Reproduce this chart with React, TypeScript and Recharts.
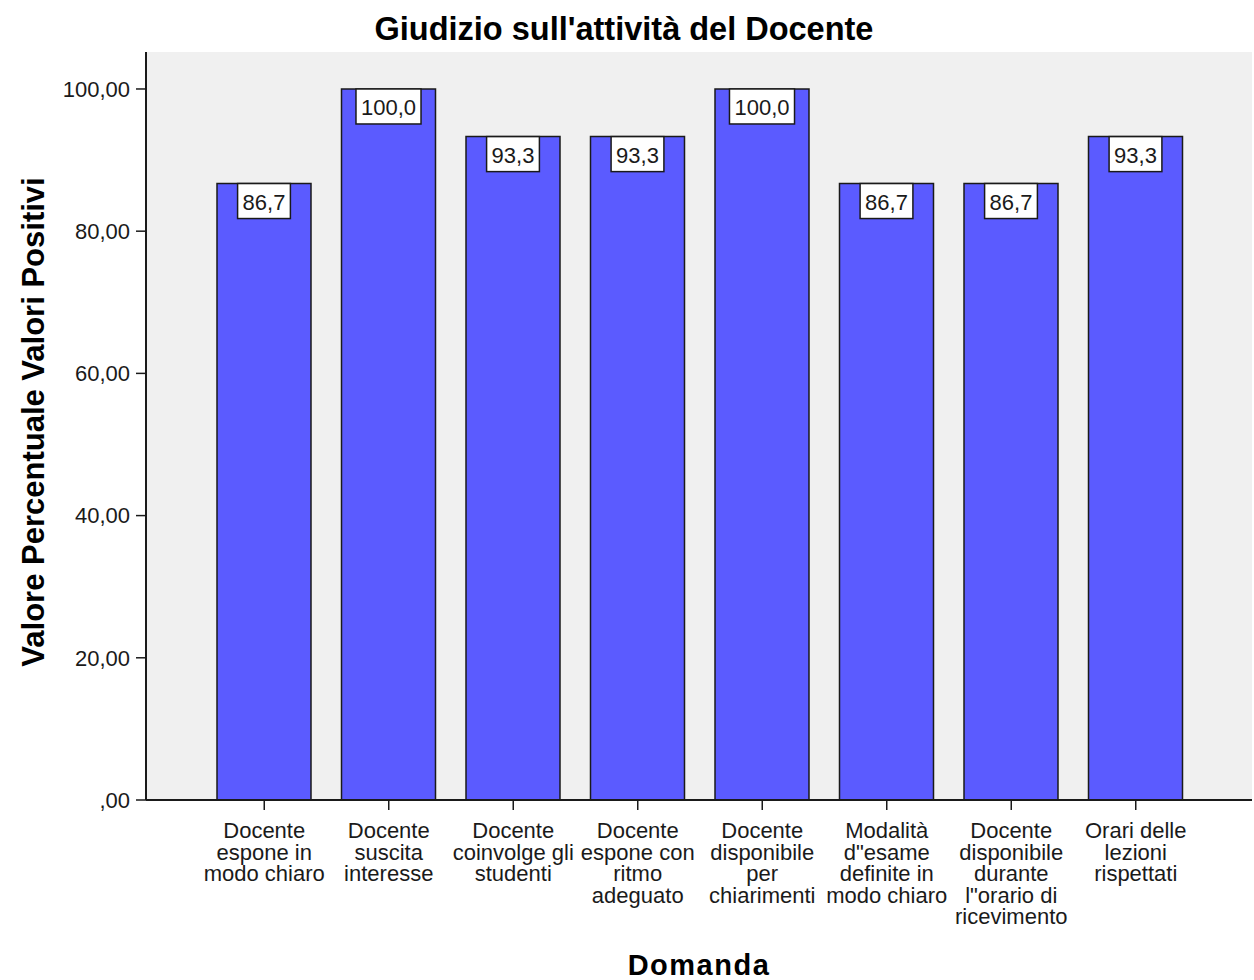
import { Bar, BarChart, CartesianGrid, LabelList, XAxis, YAxis } from 'recharts'

const categories = [
  'Docente\nespone in\nmodo chiaro',
  'Docente\nsuscita\ninteresse',
  'Docente\ncoinvolge gli\nstudenti',
  'Docente\nespone con\nritmo\nadeguato',
  'Docente\ndisponibile\nper\nchiarimenti',
  'Modalità\nd"esame\ndefinite in\nmodo chiaro',
  'Docente\ndisponibile\ndurante\nl"orario di\nricevimento',
  'Orari delle\nlezioni\nrispettati',
]

const positivePercent = [86.7, 100.0, 93.3, 93.3, 100.0, 86.7, 86.7, 93.3]

const yTicks = [0, 20, 40, 60, 80, 100]

const chartTitle = "Giudizio sull'attività del Docente"
const xTitle = 'Domanda'
const yTitle = 'Valore Percentuale Valori Positivi'

const data = categories.map((domanda, i) => ({
  domanda,
  valore: positivePercent[i],
}))

const FONT = '"Liberation Sans", Arial, sans-serif'
const TICK_SIZE = 22

const formatAxis = (v: number) =>
  v === 0 ? ',00' : v.toFixed(2).replace('.', ',')

const formatValue = (v: number) => v.toFixed(1).replace('.', ',')

// rough Arial advance widths, enough to size the white label box
const textWidth = (s: string, size: number) =>
  s.split('').reduce((w, ch) => w + (ch === ',' ? 0.278 : 0.556) * size, 0)

function CategoryTick({ x, y, payload }: any) {
  const lines = String(payload.value).split('\n')
  return (
    <text
      x={x}
      y={y}
      textAnchor="middle"
      fontFamily={FONT}
      fontSize={TICK_SIZE}
      fill="#1a1a1a"
    >
      {lines.map((line, i) => (
        <tspan key={i} x={x} dy={i === 0 ? 28 : 21.5}>
          {line}
        </tspan>
      ))}
    </text>
  )
}

function ValueBox(props: any) {
  const { x, y, width, value } = props
  const label = formatValue(Number(value))
  const w = textWidth(label, TICK_SIZE) + 10
  const cx = x + width / 2
  return (
    <g>
      <rect
        x={cx - w / 2}
        y={y}
        width={w}
        height={35}
        fill="#ffffff"
        stroke="#1a1a1a"
        strokeWidth={1.5}
      />
      <text
        x={cx}
        y={y + 26}
        textAnchor="middle"
        fontFamily={FONT}
        fontSize={TICK_SIZE}
        fill="#1a1a1a"
      >
        {label}
      </text>
    </g>
  )
}

export default function App() {
  return (
    <div style={{ position: 'absolute', left: 0, top: 0, width: 1254, height: 980, background: '#fff' }}>
      <BarChart
        width={1254}
        height={980}
        data={data}
        margin={{ top: 52, right: 2, left: 46, bottom: 40 }}
      >
        <CartesianGrid fill="#f0f0f0" horizontal={false} vertical={false} />
        <XAxis
          dataKey="domanda"
          interval={0}
          height={140}
          padding={{ left: 56, right: 54 }}
          tick={<CategoryTick />}
          tickSize={10}
          tickMargin={0}
          tickLine={{ stroke: '#1a1a1a', strokeWidth: 1.5 }}
          axisLine={{ stroke: '#1a1a1a', strokeWidth: 2 }}
        />
        <XAxis
          xAxisId="top"
          orientation="top"
          dataKey="domanda"
          height={0}
          tick={false}
          tickLine={false}
          axisLine={{ stroke: '#6a6a6a', strokeWidth: 2 }}
        />
        <YAxis
          domain={[0, 105.2]}
          ticks={yTicks}
          width={100}
          tickFormatter={formatAxis}
          tick={{ fill: '#1a1a1a', fontSize: TICK_SIZE, fontFamily: FONT }}
          tickSize={10}
          tickMargin={6}
          tickLine={{ stroke: '#1a1a1a', strokeWidth: 1.5 }}
          axisLine={{ stroke: '#1a1a1a', strokeWidth: 2 }}
        />
        <YAxis
          yAxisId="right"
          orientation="right"
          domain={[0, 105.2]}
          width={0}
          tick={false}
          tickLine={false}
          axisLine={{ stroke: '#6a6a6a', strokeWidth: 2 }}
        />
        <Bar
          dataKey="valore"
          fill="#5b5bff"
          stroke="#1a1a1a"
          strokeWidth={1.5}
          barSize={94}
          isAnimationActive={false}
        >
          <LabelList dataKey="valore" content={<ValueBox />} />
        </Bar>
      </BarChart>
      <svg
        width={1254}
        height={980}
        style={{ position: 'absolute', left: 0, top: 0, pointerEvents: 'none' }}
      >
        <text x={624} y={40} textAnchor="middle" fontFamily={FONT} fontWeight="bold" fontSize={32.5} fill="#000">
          {chartTitle}
        </text>
        <text x={699} y={975} textAnchor="middle" fontFamily={FONT} fontWeight="bold" fontSize={29} letterSpacing={1.5} fill="#000">
          {xTitle}
        </text>
        <text
          transform="translate(44, 422) rotate(-90)"
          textAnchor="middle"
          fontFamily={FONT}
          fontWeight="bold"
          fontSize={31}
          fill="#000"
        >
          {yTitle}
        </text>
      </svg>
    </div>
  )
}
